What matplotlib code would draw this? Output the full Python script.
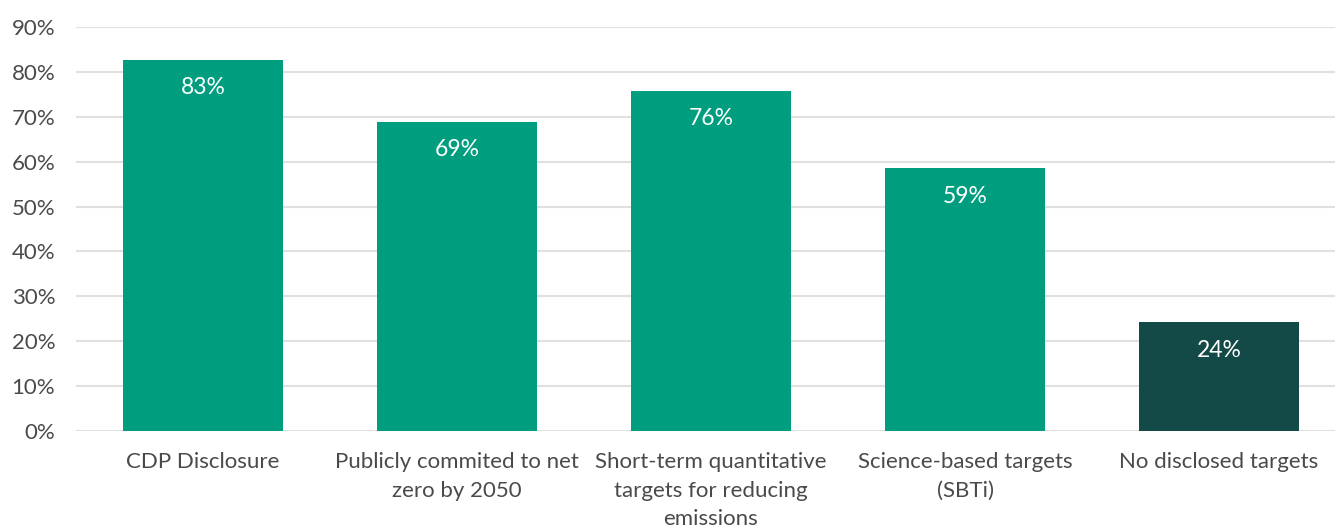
import matplotlib
matplotlib.use("Agg")
import matplotlib.pyplot as plt
import numpy as np

categories = ["CDP Disclosure",
              "Publicly commited to net\nzero by 2050",
              "Short-term quantitative\ntargets for reducing\nemissions",
              "Science-based targets\n(SBTi)",
              "No disclosed targets"]
values = [82.7, 68.9, 75.8, 58.5, 24.2]
labels = ["83%", "69%", "76%", "59%", "24%"]
bar_colors = ["#009E7E", "#009E7E", "#009E7E", "#009E7E", "#134A48"]

plt.rcParams['font.family'] = ['Lato', 'DejaVu Sans']

fig = plt.figure(figsize=(13.35, 5.28), dpi=100)
ax = fig.add_axes([76/1335, 1-431/528, 1270/1335, (431-27)/528])

x = np.arange(len(categories))
bars = ax.bar(x, values, width=0.626, color=bar_colors, zorder=3, clip_on=False)
for b, lab in zip(bars, labels):
    ax.text(b.get_x() + b.get_width()/2, b.get_height() - 6.2, lab,
            ha="center", va="center", color="white", fontsize=16.5, zorder=4)

ax.set_xlim(-0.5, len(categories) - 0.5)
ax.set_ylim(0, 90)
ax.set_yticks(np.arange(0, 91, 10))
ax.set_yticklabels([f"{v}%" for v in range(0, 91, 10)])
ax.set_xticks(x)
ax.set_xticklabels(categories, linespacing=1.55)
ax.tick_params(axis="both", length=0, labelsize=16, colors="#4A4A4A")
ax.tick_params(axis="y", pad=15)
ax.tick_params(axis="x", pad=15)
ax.yaxis.grid(True, color="#E0E0E0", linewidth=1.5, zorder=0)
for s in ax.spines.values():
    s.set_visible(False)

fig.savefig("out.png", dpi=100)
